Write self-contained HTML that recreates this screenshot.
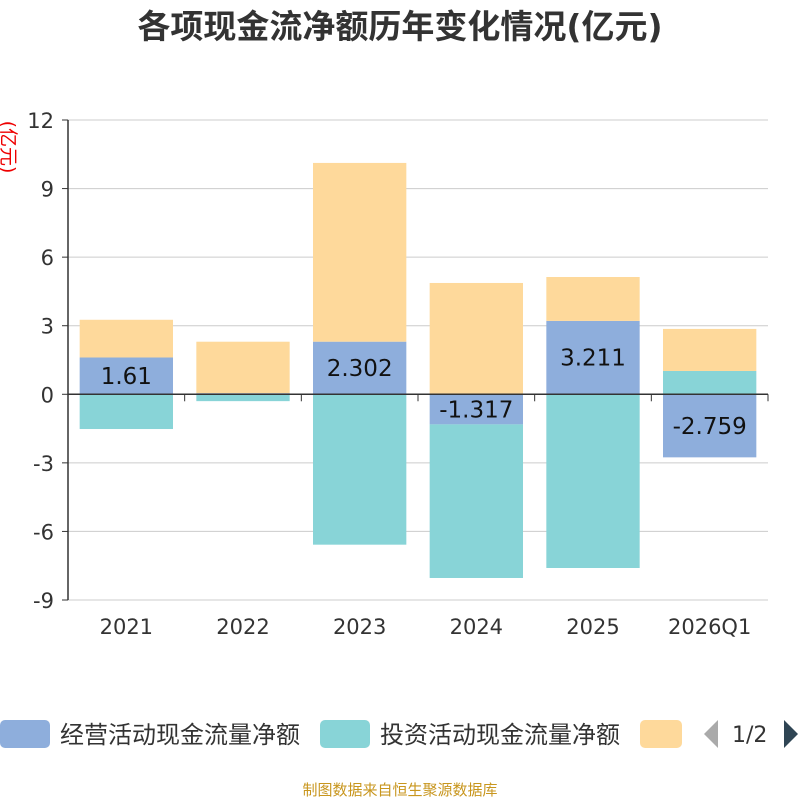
<!DOCTYPE html>
<html><head><meta charset="utf-8"><style>
body{margin:0;background:#fff;width:800px;height:800px;overflow:hidden;font-family:"DejaVu Sans","Noto Sans CJK SC",sans-serif}
</style></head><body>
<svg id="c" width="800" height="800" xmlns="http://www.w3.org/2000/svg" font-family="DejaVu Sans,Noto Sans CJK SC,sans-serif">
<text x="400" y="38" text-anchor="middle" font-size="33" font-weight="bold" fill="#333">各项现金流净额历年变化情况(亿元)</text>
<text transform="translate(2,147) rotate(90)" text-anchor="middle" font-size="19" fill="#e00">(亿元)</text>
<g id="grid"></g><g id="bars"></g><g id="axes"></g><g id="labels"></g>
<g font-size="24" fill="#333">
<g><rect x="0" y="720" width="50" height="28" rx="5" fill="#8eaedc"/><text x="60" y="743">经营活动现金流量净额</text></g>
<g><rect x="320" y="720" width="50" height="28" rx="5" fill="#88d4d7"/><text x="380" y="743">投资活动现金流量净额</text></g>
<g><rect x="640" y="720" width="42" height="28" rx="5" fill="#fed99b"/></g>
<polygon points="718,720 718,748 704,734" fill="#aaa"/>
<text x="732" y="742" font-size="22">1/2</text>
<polygon points="784,720 784,748 798,734" fill="#2f4554"/>
</g>
<text x="400" y="795" text-anchor="middle" font-size="15" fill="#c8961e">制图数据来自恒生聚源数据库</text>
</svg>
<script>
const categories=["2021","2022","2023","2024","2025","2026Q1"];
const operating=[1.61,0.05,2.302,-1.317,3.211,-2.759];
const investing=[-1.52,-0.3,-6.58,-6.72,-7.6,1.02];
const financing=[1.65,2.25,7.82,4.87,1.92,1.84];
const yTicks=[-9,-6,-3,0,3,6,9,12];
const opLabels=["1.61","","2.302","-1.317","3.211","-2.759"];
const NS="http://www.w3.org/2000/svg";
const X0=68,X1=768,Y0=120,Y1=600,ymin=-9,ymax=12;
const y=v=>Y0+(ymax-v)/(ymax-ymin)*(Y1-Y0);
const band=(X1-X0)/categories.length;
const xc=i=>X0+band*(i+0.5);
function mk(tag,attrs,parent){const e=document.createElementNS(NS,tag);for(const k in attrs)e.setAttribute(k,attrs[k]);document.getElementById(parent).appendChild(e);return e;}
yTicks.forEach(t=>{
  const l=mk('line',{x1:X0,x2:X1,y1:y(t),y2:y(t),stroke:'#ccc','stroke-width':1},'grid');
  
  
  const tk=mk('line',{x1:X0-6,x2:X0,y1:y(t),y2:y(t),stroke:'#333'},'axes');
  
  
  const tx=mk('text',{x:X0-14,y:y(t)+8,'text-anchor':'end','font-size':21,fill:'#333'},'axes');
  tx.textContent=t;
  
  
});
const ya=mk('line',{x1:X0,x2:X0,y1:Y0,y2:Y1,stroke:'#333','stroke-width':1.5},'axes');


const xa=mk('line',{x1:X0,x2:X1,y1:y(0),y2:y(0),stroke:'#333','stroke-width':1.5},'axes');


for(let i=0;i<=categories.length;i++){
  const t=mk('line',{x1:X0+band*i,x2:X0+band*i,y1:y(0),y2:y(0)+7,stroke:'#333'},'axes');
  
  
}
const series=[[operating,'#8eaedc','operating'],[investing,'#88d4d7','investing'],[financing,'#fed99b','financing']];
const bw=band*0.8;
categories.forEach((c,i)=>{
  let pos=0,neg=0;
  series.forEach(([arr,col,nm])=>{
    const v=arr[i];let a,b;
    if(v>=0){a=pos;b=pos+v;pos=b;}else{a=neg;b=neg+v;neg=b;}
    const r=mk('rect',{x:xc(i)-bw/2,y:Math.min(y(a),y(b)),width:bw,height:Math.abs(y(a)-y(b)),fill:col},'bars');
    
    
  });
  const tx=mk('text',{x:xc(i),y:Y1+34,'text-anchor':'middle','font-size':21,fill:'#333'},'axes');
  tx.textContent=c;
  
  
  if(opLabels[i]){
    const lb=mk('text',{x:xc(i),y:y(operating[i]/2)+8,'text-anchor':'middle','font-size':23,fill:'#111'},'labels');
    lb.textContent=opLabels[i];
    
    
  }
});
</script>
</body></html>
